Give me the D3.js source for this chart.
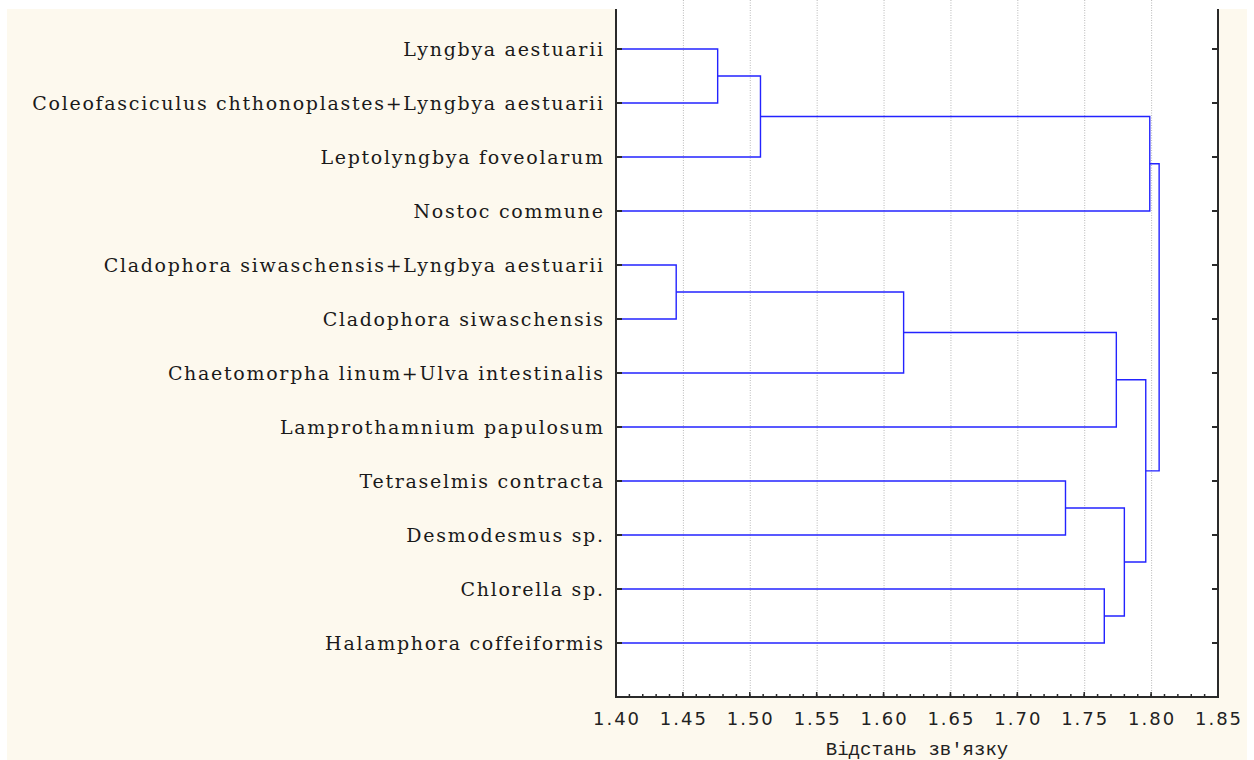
<!DOCTYPE html>
<html>
<head>
<meta charset="utf-8">
<script src="https://cdn.jsdelivr.net/npm/d3@7/dist/d3.min.js"></script>
<style>
  html, body { margin: 0; padding: 0; background: #ffffff; }
  svg { display: block; }
</style>
</head>
<body>
<svg id="chart" width="1254" height="760"></svg>
<script>
// Leaf labels, top to bottom
const leaves = [
  "Lyngbya aestuarii",
  "Coleofasciculus chthonoplastes+Lyngbya aestuarii",
  "Leptolyngbya foveolarum",
  "Nostoc commune",
  "Cladophora siwaschensis+Lyngbya aestuarii",
  "Cladophora siwaschensis",
  "Chaetomorpha linum+Ulva intestinalis",
  "Lamprothamnium papulosum",
  "Tetraselmis contracta",
  "Desmodesmus sp.",
  "Chlorella sp.",
  "Halamphora coffeiformis"
];

// Joins: ids 0..11 are leaves, join k creates cluster id 12 + k
const mergeLeft     = [0,     12,    4,     14,    8,     10,    16,    15,    13,    19,    20];
const mergeRight    = [1,     2,     5,     6,     9,     11,    17,    7,     3,     18,    21];
const mergeDistance = [1.476, 1.508, 1.445, 1.615, 1.736, 1.765, 1.780, 1.774, 1.799, 1.796, 1.806];

// Distance axis
const xTicks = [1.40, 1.45, 1.50, 1.55, 1.60, 1.65, 1.70, 1.75, 1.80, 1.85];
const xTickLabels = ["1.40", "1.45", "1.50", "1.55", "1.60", "1.65", "1.70", "1.75", "1.80", "1.85"];
const xMinorTicks = d3.range(140, 186).map(v => v / 100);
const xTitle = "Відстань зв'язку";

const svg = d3.select("#chart");

const plotLeft = 616, plotRight = 1218, plotBottom = 697, panelTop = 9;

const x = d3.scaleLinear().domain([1.40, 1.85]).range([plotLeft, plotRight]);
// leaf slots 1..12, axis spans 0..13 (top part sits above the panel)
const y = d3.scaleLinear().domain([0, leaves.length + 1]).range([-5, plotBottom]);

// panel background
svg.append("rect")
  .attr("x", 7).attr("y", panelTop)
  .attr("width", 1240).attr("height", 760 - panelTop)
  .attr("fill", "#fdf9ee");

// plot area
svg.append("rect")
  .attr("x", plotLeft).attr("y", 0)
  .attr("width", plotRight - plotLeft).attr("height", plotBottom)
  .attr("fill", "#ffffff");

// dotted vertical grid
svg.append("g")
  .selectAll("line")
  .data(xTicks.slice(1, -1))
  .join("line")
  .attr("x1", d => x(d) + 0.5).attr("x2", d => x(d) + 0.5)
  .attr("y1", 0).attr("y2", plotBottom)
  .attr("stroke", "#b8b8b8")
  .attr("stroke-width", 1)
  .attr("stroke-dasharray", "1,1.5");

// node positions
const nodeX = leaves.map(() => 1.40);
const nodeY = leaves.map((d, i) => i + 1);
mergeLeft.forEach((l, k) => {
  const r = mergeRight[k];
  nodeX.push(mergeDistance[k]);
  nodeY.push((nodeY[l] + nodeY[r]) / 2);
});

// dendrogram links
const links = mergeLeft.map((l, k) => ({ l, r: mergeRight[k], id: leaves.length + k }));
svg.append("g")
  .selectAll("path")
  .data(links)
  .join("path")
  .attr("d", d => {
    const xm = x(nodeX[d.id]);
    return `M${x(nodeX[d.l])},${y(nodeY[d.l])}H${xm}V${y(nodeY[d.r])}H${x(nodeX[d.r])}`;
  })
  .attr("fill", "none")
  .attr("stroke", "#2323ff")
  .attr("stroke-width", 1.4);

// frame: left, right and bottom axis lines
const frame = svg.append("g").attr("stroke", "#2a2a2a").attr("stroke-width", 2).attr("fill", "none");
frame.append("path")
  .attr("d", `M${plotLeft},${panelTop}V${plotBottom}H${plotRight}V${panelTop}`);

// category ticks on left and right axes
const leafSlots = leaves.map((d, i) => i + 1);
frame.selectAll("line.lt")
  .data(leafSlots)
  .join("line")
  .attr("x1", plotLeft).attr("x2", plotLeft + 6)
  .attr("y1", d => y(d)).attr("y2", d => y(d));
frame.selectAll("line.rt")
  .data(leafSlots)
  .join("line")
  .attr("x1", plotRight - 6).attr("x2", plotRight)
  .attr("y1", d => y(d)).attr("y2", d => y(d));

// bottom ticks: minor dots and major marks
svg.append("g")
  .selectAll("line")
  .data(xMinorTicks)
  .join("line")
  .attr("x1", d => x(d)).attr("x2", d => x(d))
  .attr("y1", plotBottom - 3).attr("y2", plotBottom)
  .attr("stroke", "#2a2a2a").attr("stroke-width", 1.5);
svg.append("g")
  .selectAll("line")
  .data(xTicks)
  .join("line")
  .attr("x1", d => x(d)).attr("x2", d => x(d))
  .attr("y1", plotBottom - 5).attr("y2", plotBottom)
  .attr("stroke", "#2a2a2a").attr("stroke-width", 1.5);

// tick labels
svg.append("g")
  .selectAll("text")
  .data(xTicks)
  .join("text")
  .attr("x", d => x(d) + 1)
  .attr("y", 725)
  .attr("text-anchor", "middle")
  .attr("font-family", "DejaVu Sans, sans-serif")
  .attr("font-size", 18)
  .attr("letter-spacing", 2)
  .attr("fill", "#222")
  .text((d, i) => xTickLabels[i]);

// axis title
svg.append("text")
  .attr("x", 917).attr("y", 755)
  .attr("text-anchor", "middle")
  .attr("font-family", "Liberation Mono, monospace")
  .attr("font-size", 19)
  .attr("fill", "#222")
  .text(xTitle);

// leaf labels
svg.append("g")
  .selectAll("text")
  .data(leaves)
  .join("text")
  .attr("x", 604.7)
  .attr("y", (d, i) => y(i + 1))
  .attr("dy", "0.35em")
  .attr("text-anchor", "end")
  .attr("font-family", "DejaVu Serif, serif")
  .attr("font-size", 19)
  .attr("letter-spacing", 1.7)
  .attr("fill", "#1a1a1a")
  .text(d => d);
</script>
</body>
</html>
